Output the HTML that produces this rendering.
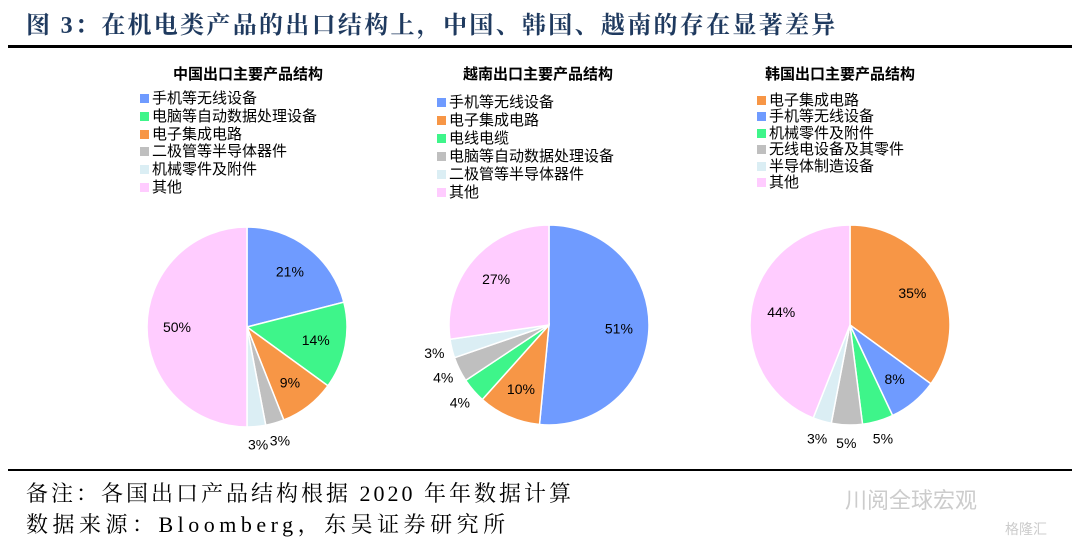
<!DOCTYPE html>
<html><head><meta charset="utf-8">
<style>
body{margin:0;width:1080px;height:546px;background:#fff;position:relative;overflow:hidden;font-family:"Liberation Serif","Noto Serif CJK SC",serif}
.title{position:absolute;left:26px;top:5px;font-size:24px;font-weight:bold;color:#1f3a5f;letter-spacing:2.3px;white-space:nowrap}
.rule{position:absolute;left:8px;width:1064px;background:#000}
.note{position:absolute;left:26px;font-size:22px;color:#000;letter-spacing:3px;white-space:nowrap}
.leg{position:absolute;font-family:"Liberation Sans","Noto Sans CJK SC",sans-serif;font-size:15px;color:#000}
.leg div{white-space:nowrap}
.sw{display:inline-block;width:9px;height:9px;margin-right:3px;vertical-align:0px}
.ct{position:absolute;font-family:"Liberation Sans","Noto Sans CJK SC",sans-serif;font-size:15px;font-weight:bold}
.wm{position:absolute;color:#ccc;font-family:"Noto Sans CJK SC",sans-serif}
</style></head><body>
<div class="title">图 3：在机电类产品的出口结构上，中国、韩国、越南的存在显著差异</div>
<div class="rule" style="top:45px;height:3px"></div>
<div class="rule" style="top:469px;height:2px"></div>
<div class="note" style="top:477px">备注：各国出口产品结构根据 2020 年年数据计算</div>
<div class="note" style="top:508px;letter-spacing:4.5px">数据来源：Bloomberg，东吴证券研究所</div>
<div class="wm" style="left:845px;top:483px;font-size:22px">川阅全球宏观</div>
<div class="wm" style="left:1005px;top:519px;font-size:14px">格隆汇</div>
<div id="root"></div>
<svg id="svg" width="1080" height="546" style="position:absolute;left:0;top:0"></svg>
<script>
const colors={blue:"#6f9bff",green:"#3ef58a",orange:"#f79646",gray:"#bfbfbf",lb:"#dbeef4",pink:"#ffccff"};
const chinaLabels=["手机等无线设备","电脑等自动数据处理设备","电子集成电路","二极管等半导体器件","机械零件及附件","其他"];
const chinaValues=[21,14,9,3,3,50];
const chinaColors=["blue","green","orange","gray","lb","pink"];
const vietLabels=["手机等无线设备","电子集成电路","电线电缆","电脑等自动数据处理设备","二极管等半导体器件","其他"];
const vietValues=[51,10,4,4,3,27];
const vietColors=["blue","orange","green","gray","lb","pink"];
const korLabels=["电子集成电路","手机等无线设备","机械零件及附件","无线电设备及其零件","半导体制造设备","其他"];
const korValues=[35,8,5,5,3,44];
const korColors=["orange","blue","green","gray","lb","pink"];
const charts=[
 {name:"china",title:"中国出口主要产品结构",tx:173,ty:63,lx:140,ly:90,lh:17.8,cx:247,cy:327,r:100,labels:chinaLabels,values:chinaValues,cols:chinaColors},
 {name:"vietnam",title:"越南出口主要产品结构",tx:463,ty:63,lx:437,ly:94,lh:18,cx:549,cy:325,r:100,labels:vietLabels,values:vietValues,cols:vietColors},
 {name:"korea",title:"韩国出口主要产品结构",tx:765,ty:63,lx:757,ly:93,lh:16.4,cx:850,cy:325,r:100,labels:korLabels,values:korValues,cols:korColors}
];
const svg=document.getElementById('svg'),root=document.getElementById('root');
const NS="http://www.w3.org/2000/svg";
charts.forEach(c=>{
 const t=document.createElement('div');t.className='ct';t.style.left=c.tx+'px';t.style.top=c.ty+'px';t.textContent=c.title;
 
 
 root.appendChild(t);
 const lg=document.createElement('div');lg.className='leg';lg.style.left=c.lx+'px';lg.style.top=c.ly+'px';lg.style.lineHeight=c.lh+'px';
 
 
 c.labels.forEach((l,i)=>{const d=document.createElement('div');
  d.innerHTML='<span class="sw" style="background:'+colors[c.cols[i]]+'"></span>'+l;
  
  
  lg.appendChild(d);});
 root.appendChild(lg);
 const total=c.values.reduce((a,b)=>a+b,0);let cum=0;
 c.values.forEach((v,i)=>{
  const a0=cum/total*2*Math.PI,a1=(cum+v)/total*2*Math.PI;cum+=v;
  const p=(a)=>[c.cx+c.r*Math.sin(a),c.cy-c.r*Math.cos(a)];
  const [x0,y0]=p(a0),[x1,y1]=p(a1);
  const path=document.createElementNS(NS,'path');
  path.setAttribute('d',`M${c.cx},${c.cy}L${x0},${y0}A${c.r},${c.r} 0 ${(a1-a0)>Math.PI?1:0} 1 ${x1},${y1}Z`);
  path.setAttribute('fill',colors[c.cols[i]]);path.setAttribute('stroke','#fff');path.setAttribute('stroke-width','1.5');
  
  
  svg.appendChild(path);
  const am=(a0+a1)/2,inside=v>=8,rr=inside?c.r*0.7:c.r*1.18;
  const tx=document.createElementNS(NS,'text');
  tx.setAttribute('x',c.cx+rr*Math.sin(am));tx.setAttribute('y',c.cy-rr*Math.cos(am)+5);
  tx.setAttribute('text-anchor','middle');tx.setAttribute('font-size','14');tx.setAttribute('font-family','Liberation Sans, sans-serif');
  tx.textContent=v+'%';
  
  
  svg.appendChild(tx);
 });
});
</script>
</body></html>
